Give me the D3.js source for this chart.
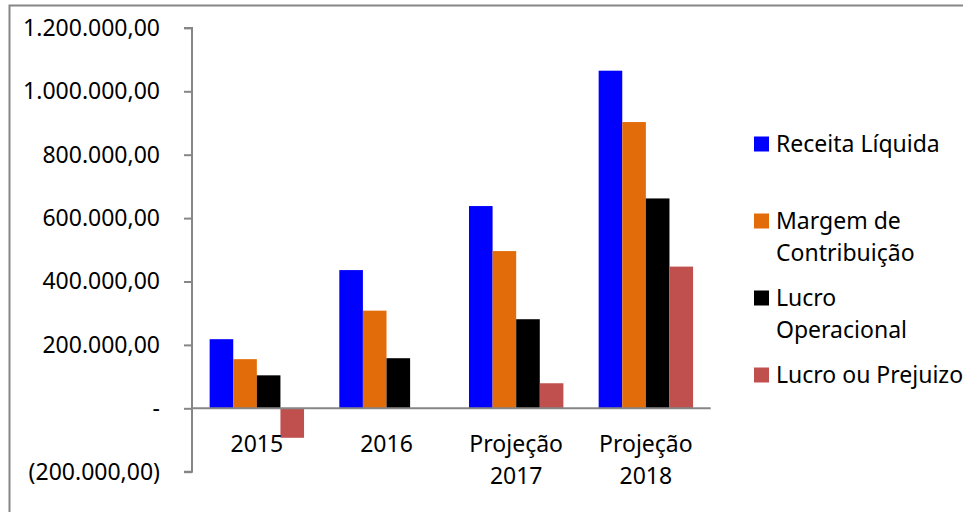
<!DOCTYPE html>
<html>
<head>
<meta charset="utf-8">
<script src="https://cdn.jsdelivr.net/npm/d3@7"></script>
<style>
  body { margin: 0; background: #fff; }
  svg { display: block; }
</style>
</head>
<body>
<div class="chart"></div>
<script>
// Demonstrativo: valores por ano
var categorias = [["2015"], ["2016"], ["Projeção", "2017"], ["Projeção", "2018"]];
var series = ["Receita Líquida", "Margem de Contribuição", "Lucro Operacional", "Lucro ou Prejuizo"];
var legendaLinhas = [["Receita Líquida"], ["Margem de", "Contribuição"], ["Lucro", "Operacional"], ["Lucro ou Prejuizo"]];

var receita = [218000, 436000, 638000, 1065000];
var margem = [155000, 308000, 496000, 903000];
var lucroOp = [104000, 158000, 281000, 662000];
var lucroPrej = [-93000, 0, 79000, 447000];

var yTicks = [-200000, 0, 200000, 400000, 600000, 800000, 1000000, 1200000];

var cores = ["#0000ff", "#e36c0a", "#000000", "#c0504d"];
var valores = [receita, margem, lucroOp, lucroPrej];

var W = 963, H = 512;
var fonte = "'Noto Sans', 'Open Sans', sans-serif";

var svg = d3.select(".chart")
    .append("svg")
    .attr("width", W)
    .attr("height", H);

// moldura (só topo e esquerda aparecem)
svg.append("rect")
    .attr("x", 9.5)
    .attr("y", 5.5)
    .attr("width", W + 20)
    .attr("height", H + 20)
    .attr("fill", "none")
    .attr("stroke", "#868686")
    .attr("stroke-width", 2);

var x0 = d3.scaleBand()
    .domain(d3.range(categorias.length))
    .range([192, 710.7])
    .paddingInner(0.272)
    .paddingOuter(0.136);

var x1 = d3.scaleBand()
    .domain(d3.range(series.length))
    .range([0, x0.bandwidth()]);

var y = d3.scaleLinear()
    .domain([-200000, 1200000])
    .range([471.7, 27.9]);

var fmt = function(v) {
    if (v === 0) return "-";
    var s = d3.format(",.2f")(Math.abs(v)).replace(/,/g, "X").replace(/\./g, ",").replace(/X/g, ".");
    return v < 0 ? "(" + s + ")" : s;
};

// barras
for (var s = 0; s < series.length; s++) {
    svg.append("g")
        .selectAll("rect")
        .data(valores[s])
        .join("rect")
        .attr("x", function(d, i) { return x0(i) + x1(s); })
        .attr("y", function(d) { return y(Math.max(0, d)); })
        .attr("width", x1.bandwidth())
        .attr("height", function(d) { return Math.abs(y(d) - y(0)); })
        .attr("fill", cores[s]);
}

// eixo y
var eixoY = svg.append("g")
    .attr("transform", "translate(192,0)")
    .call(d3.axisLeft(y).tickValues(yTicks).tickSize(8).tickFormat(fmt).tickPadding(24));
eixoY.select(".domain").attr("stroke", "#868686").attr("stroke-width", 2)
    .attr("d", "M-8," + y(1200000) + "H0V" + y(-200000) + "H-8");
eixoY.selectAll(".tick line").attr("stroke", "#868686").attr("stroke-width", 2);
eixoY.selectAll(".tick text")
    .attr("font-family", fonte)
    .attr("font-size", "23px")
    .attr("fill", "#000");

// eixo x (linha no zero)
svg.append("line")
    .attr("x1", 192)
    .attr("x2", 710.7)
    .attr("y1", y(0))
    .attr("y2", y(0))
    .attr("stroke", "#868686")
    .attr("stroke-width", 2);

// rótulos das categorias
categorias.forEach(function(linhas, i) {
    var t = svg.append("text")
        .attr("x", x0(i) + x0.bandwidth() / 2)
        .attr("y", 452)
        .attr("text-anchor", "middle")
        .attr("font-family", fonte)
        .attr("font-size", "23px")
        .attr("fill", "#000");
    linhas.forEach(function(l, k) {
        t.append("tspan")
            .attr("x", x0(i) + x0.bandwidth() / 2)
            .attr("dy", k === 0 ? 0 : 31.5)
            .text(l);
    });
});

// legenda
var legY = [144, 221, 298, 375];
legendaLinhas.forEach(function(linhas, i) {
    svg.append("rect")
        .attr("x", 754)
        .attr("y", legY[i] - 7.5)
        .attr("width", 15)
        .attr("height", 15)
        .attr("fill", cores[i]);
    var t = svg.append("text")
        .attr("x", 776)
        .attr("y", legY[i] + 8)
        .attr("font-family", fonte)
        .attr("font-size", "23px")
        .attr("fill", "#000");
    linhas.forEach(function(l, k) {
        t.append("tspan")
            .attr("x", 776)
            .attr("dy", k === 0 ? 0 : 32)
            .text(l);
    });
});
</script>
</body>
</html>
